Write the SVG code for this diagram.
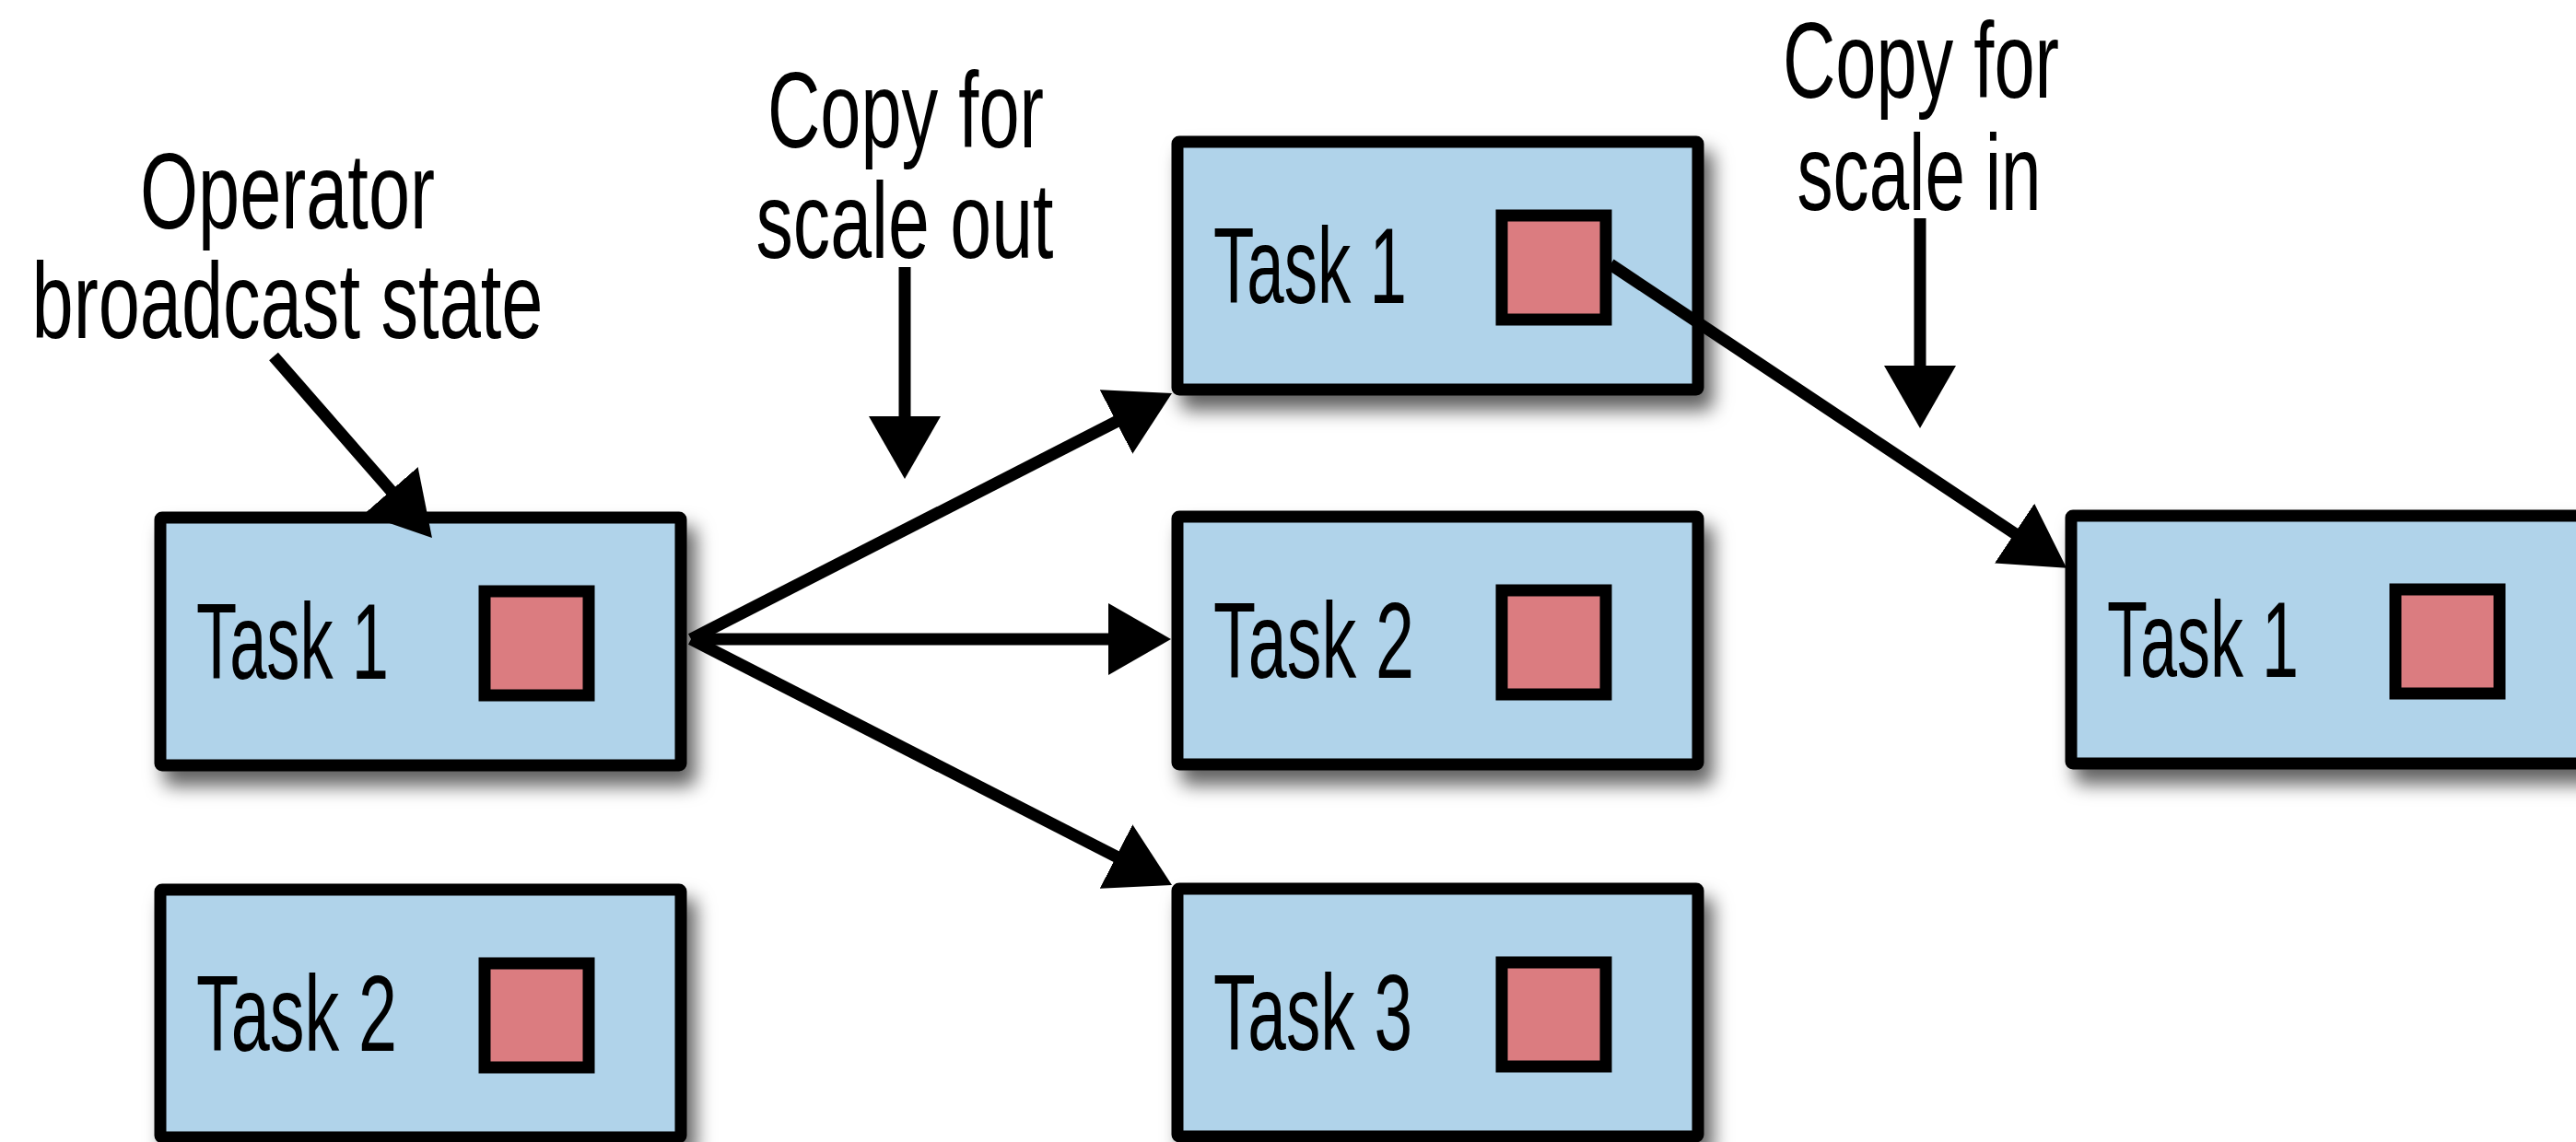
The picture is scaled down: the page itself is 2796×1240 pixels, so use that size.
<svg xmlns="http://www.w3.org/2000/svg" width="2796" height="1240" viewBox="0 0 2796 1240">
  <defs>
    <filter id="shadow" x="-10%" y="-10%" width="130%" height="145%">
      <feDropShadow dx="10" dy="16" stdDeviation="10" flood-color="#000" flood-opacity="0.62"/>
    </filter>
    <marker id="head" viewBox="0 0 68 78" refX="10" refY="39" markerWidth="68" markerHeight="78" markerUnits="userSpaceOnUse" orient="auto">
      <path d="M0,0 L68,39 L0,78 Z" fill="#000"/>
    </marker>
    <style>
      .box { fill: #B0D3EA; stroke: #000; stroke-width: 13; stroke-linejoin: round; filter: url(#shadow); }
      .state { fill: #DB7C80; stroke: #000; stroke-width: 13; }
      .label { font-family: "Liberation Sans", Arial, sans-serif; font-size: 116px; fill: #000; }
      .note { font-family: "Liberation Sans", Arial, sans-serif; font-size: 116px; fill: #000; text-anchor: middle; }
      .conn { stroke: #000; stroke-width: 13; fill: none; marker-end: url(#head); }
    </style>
  </defs>

  <rect width="2796" height="1240" fill="#fff"/>

  <!-- annotations -->
  <g id="annotations">
    <text class="note" x="312" y="248" textLength="320" lengthAdjust="spacingAndGlyphs">Operator</text>
    <text class="note" x="312" y="367" textLength="555" lengthAdjust="spacingAndGlyphs">broadcast state</text>
    <text class="note" x="983" y="160" textLength="300" lengthAdjust="spacingAndGlyphs">Copy for</text>
    <text class="note" x="982" y="280" textLength="323" lengthAdjust="spacingAndGlyphs">scale out</text>
    <text class="note" x="2085" y="106" textLength="300" lengthAdjust="spacingAndGlyphs">Copy for</text>
    <text class="note" x="2083" y="228" textLength="265" lengthAdjust="spacingAndGlyphs">scale in</text>
  </g>

  <!-- original parallelism -->
  <g id="src-task1" transform="translate(168,556)">
    <rect class="box" x="6" y="6" width="565" height="269" rx="2"/>
    <rect class="state" x="358" y="86" width="113" height="113"/>
    <text class="label" x="45" y="181" textLength="209" lengthAdjust="spacingAndGlyphs">Task 1</text>
  </g>
  <g id="src-task2" transform="translate(168,960)">
    <rect class="box" x="6" y="6" width="565" height="269" rx="2"/>
    <rect class="state" x="358" y="86" width="113" height="113"/>
    <text class="label" x="45" y="181" textLength="218" lengthAdjust="spacingAndGlyphs">Task 2</text>
  </g>

  <!-- scaled out -->
  <g id="out-task1" transform="translate(1272,148)">
    <rect class="box" x="6" y="6" width="565" height="269" rx="2"/>
    <rect class="state" x="358" y="86" width="113" height="113"/>
    <text class="label" x="45" y="181" textLength="210" lengthAdjust="spacingAndGlyphs">Task 1</text>
  </g>
  <g id="out-task2" transform="translate(1272,555)">
    <rect class="box" x="6" y="6" width="565" height="269" rx="2"/>
    <rect class="state" x="358" y="86" width="113" height="113"/>
    <text class="label" x="45" y="181" textLength="218" lengthAdjust="spacingAndGlyphs">Task 2</text>
  </g>
  <g id="out-task3" transform="translate(1272,959)">
    <rect class="box" x="6" y="6" width="565" height="269" rx="2"/>
    <rect class="state" x="358" y="86" width="113" height="113"/>
    <text class="label" x="45" y="181" textLength="216" lengthAdjust="spacingAndGlyphs">Task 3</text>
  </g>

  <!-- scaled in -->
  <g id="in-task1" transform="translate(2242,554)">
    <rect class="box" x="6" y="6" width="565" height="269" rx="2"/>
    <rect class="state" x="358" y="86" width="113" height="113"/>
    <text class="label" x="45" y="181" textLength="208" lengthAdjust="spacingAndGlyphs">Task 1</text>
  </g>

  <!-- connectors -->
  <g id="connectors">
    <line class="conn" x1="297" y1="387" x2="430.8" y2="540.3"/>
    <line class="conn" x1="982" y1="290" x2="982" y2="462"/>
    <line class="conn" x1="2084" y1="237" x2="2084" y2="407"/>
    <line class="conn" x1="750" y1="694" x2="1220.4" y2="453.4"/>
    <line class="conn" x1="750" y1="694" x2="1213" y2="694"/>
    <line class="conn" x1="750" y1="694" x2="1220.4" y2="934.6"/>
    <line class="conn" x1="1748" y1="287" x2="2194.8" y2="584.7"/>
  </g>
</svg>
